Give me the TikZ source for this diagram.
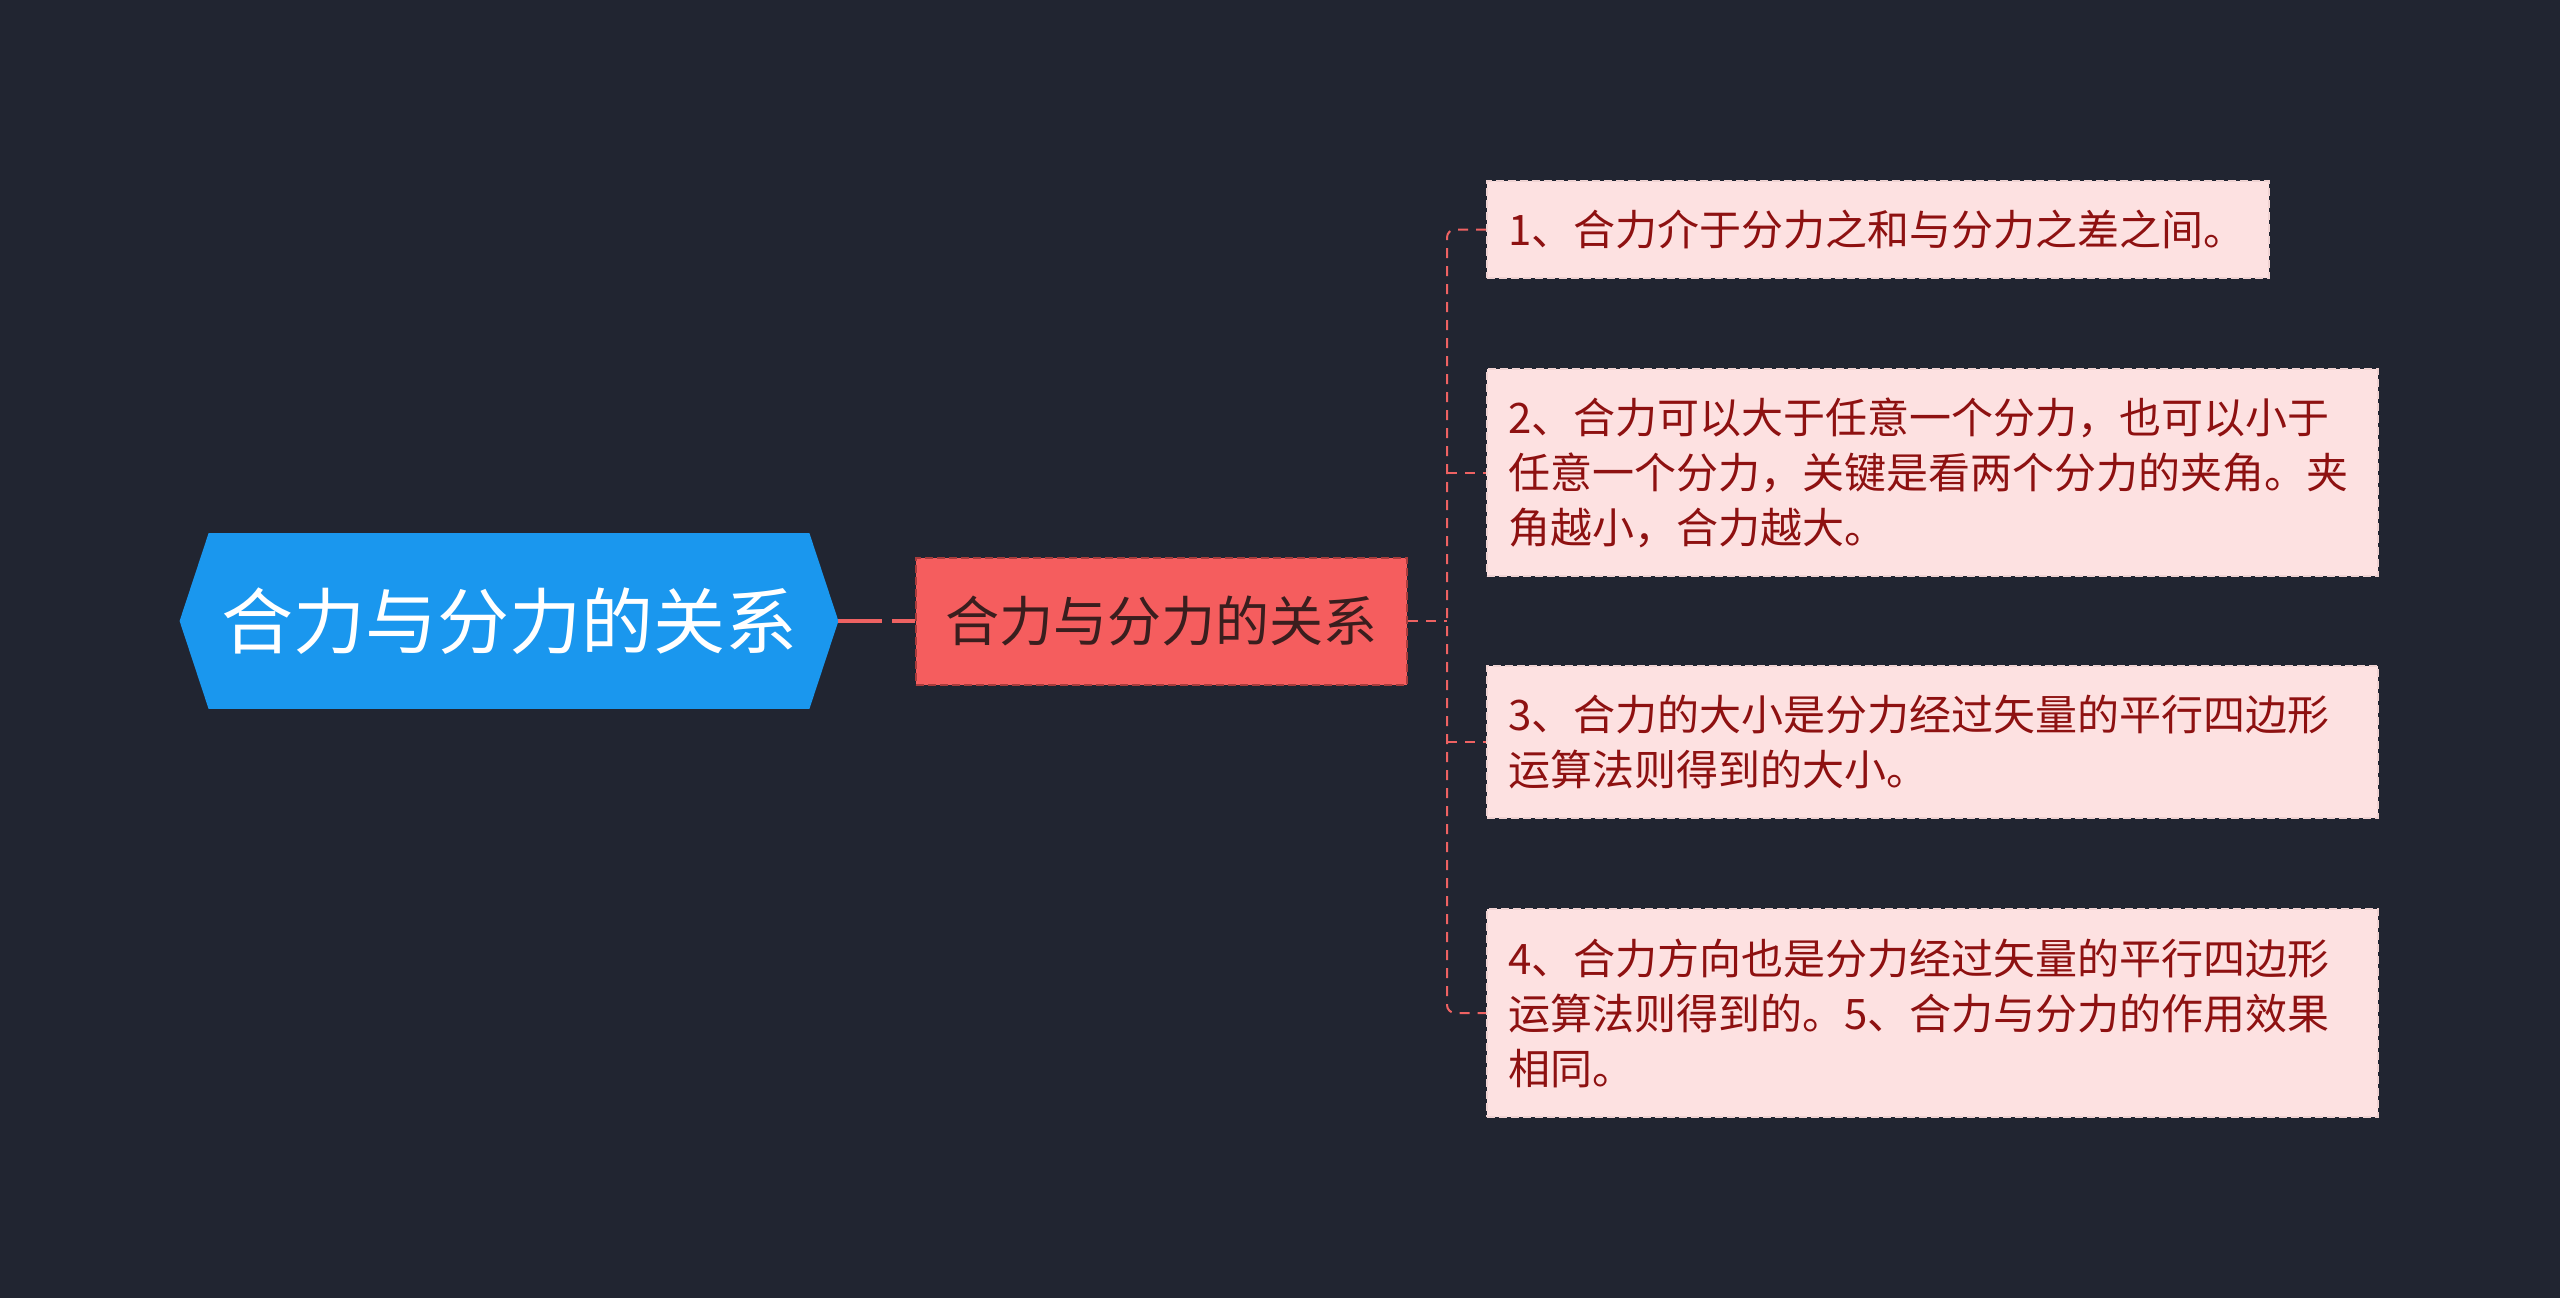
\documentclass[tikz,border=0pt]{standalone}
\usepackage{fontspec}
\setmainfont{Noto Sans CJK SC}
\usetikzlibrary{backgrounds}
\definecolor{bg}{HTML}{212531}
\definecolor{rootblue}{HTML}{1A97EE}
\definecolor{subred}{HTML}{F55D5E}
\definecolor{subborder}{HTML}{A83C3C}
\definecolor{subtext}{HTML}{3A1E1E}
\definecolor{leaffill}{HTML}{FDE1E1}
\definecolor{leafborder}{HTML}{EFD2D2}
\definecolor{leaftext}{HTML}{8E1111}
\definecolor{conncol}{HTML}{EE6262}
\tikzset{
  rootnode/.style={inner sep=0pt, minimum width=329pt, minimum height=87.5pt, text=white, font=\fontsize{36}{40}\selectfont},
  subnode/.style={fill=subred, draw=subborder, line width=1pt, dash pattern=on 4pt off 2pt, inner sep=0pt, minimum width=245.5pt, minimum height=63.5pt, text=subtext, font=\fontsize{27}{32}\selectfont},
  leafnode/.style={anchor=west, fill=leaffill, draw=leafborder, line width=1pt, dash pattern=on 4pt off 2pt, inner xsep=10.5pt, inner ysep=0pt, align=left, text=leaftext, font=\fontsize{21}{27.5}\selectfont},
  conn/.style={draw=conncol, line width=1pt, dash pattern=on 5pt off 4pt},
  mainconn/.style={draw=conncol, line width=1.6pt, dash pattern=on 22pt off 5pt}
}
\begin{document}
\begin{tikzpicture}[x=1pt,y=-1pt]
\useasboundingbox (0,0) rectangle (1280,649);
\node[rootnode] (root) at (254.5,310.5) {合力与分力的关系};
\begin{scope}[on background layer]
\fill[bg] (0,0) rectangle (1280,649);
\fill[rootblue] ([xshift=14.5pt]root.north west) -- ([xshift=-14.5pt]root.north east) -- (root.east) -- ([xshift=-14.5pt]root.south east) -- ([xshift=14.5pt]root.south west) -- (root.west) -- cycle;
\end{scope}
\node[subnode] (sub) at (580.75,310.5) {合力与分力的关系};
\coordinate (tr) at (723.5,310.5);
\node[leafnode, text width=370pt, minimum height=48.5pt] (l1) at (743,114.75) {1、合力介于分力之和与分力之差之间。};
\node[leafnode, text width=424.5pt, minimum height=103.5pt] (l2) at (743,236.25) {2、合力可以大于任意一个分力，也可以小于\\任意一个分力，关键是看两个分力的夹角。夹\\角越小，合力越大。};
\node[leafnode, text width=424.5pt, minimum height=76pt] (l3) at (743,371) {3、合力的大小是分力经过矢量的平行四边形\\运算法则得到的大小。};
\node[leafnode, text width=424.5pt, minimum height=104pt] (l4) at (743,506.5) {4、合力方向也是分力经过矢量的平行四边形\\运算法则得到的。5、合力与分力的作用效果\\相同。};
\draw[mainconn] (root.east) -- (sub.west);
\draw[conn] (sub.east) -- (tr);
\draw[conn, rounded corners=4pt] (l1.west) -- (l1.west -| tr) -- (l4.west -| tr) -- (l4.west);
\draw[conn] (l2.west -| tr) -- (l2.west);
\draw[conn] (l3.west -| tr) -- (l3.west);
\end{tikzpicture}
\end{document}
